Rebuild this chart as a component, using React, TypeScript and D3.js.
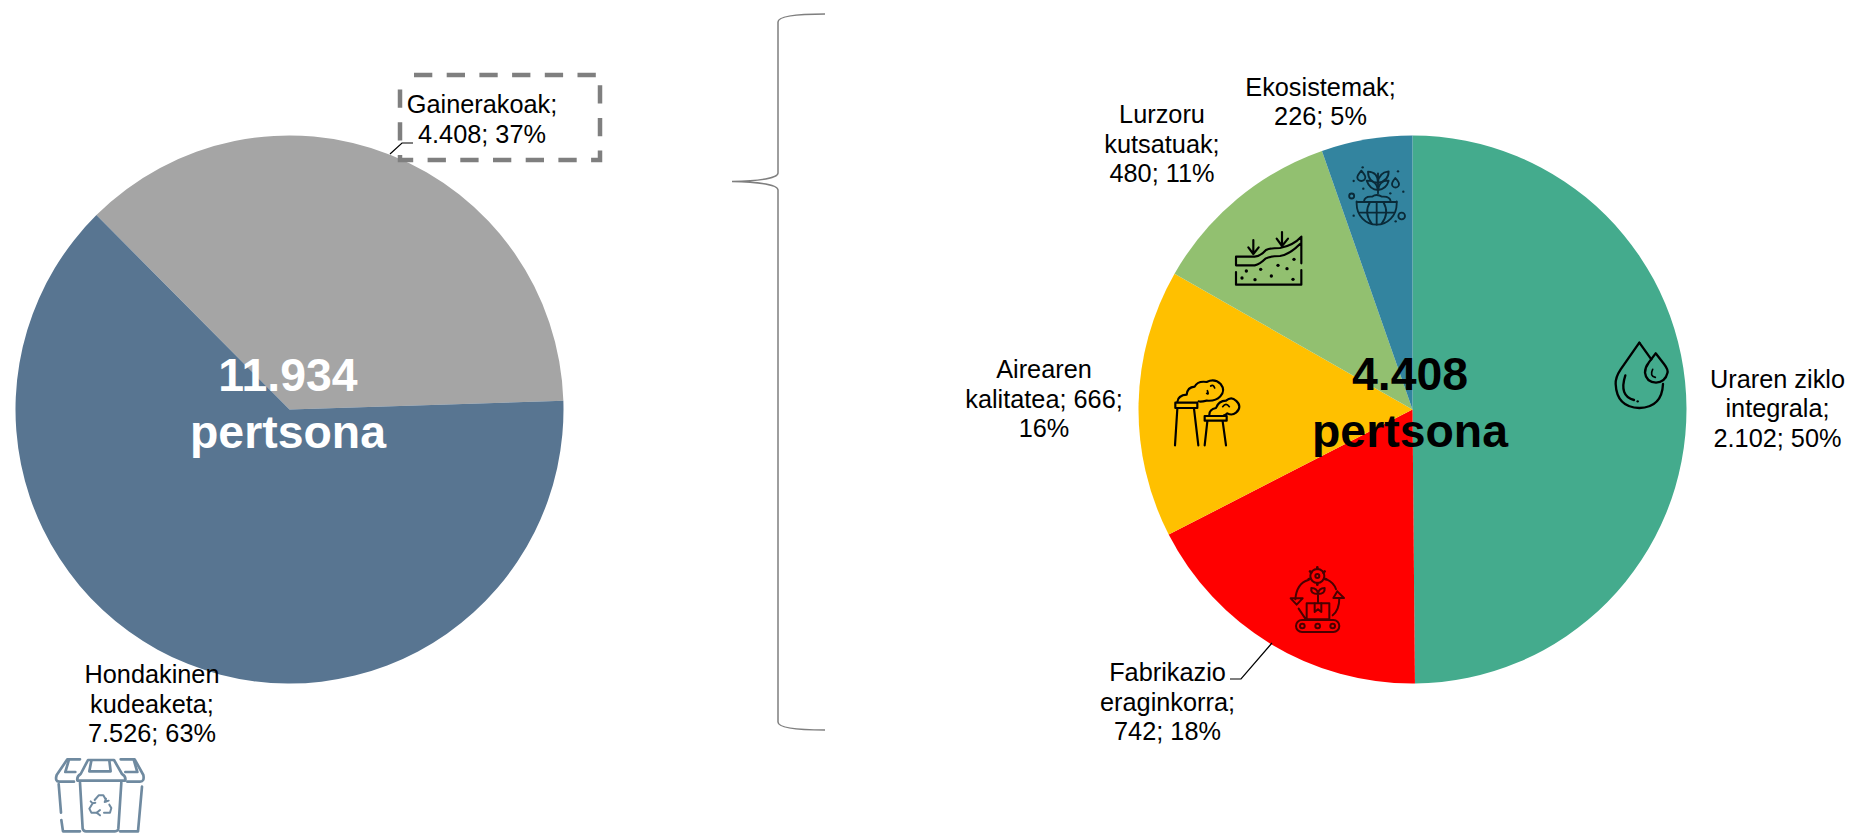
import React from "react";
import * as d3 from "d3";

const leftNames = ["Gainerakoak", "Hondakinen kudeaketa"];
const leftValues = [4408, 7526];
const leftColors = ["#A5A5A5", "#587591"];
const rightNames = ["Uraren ziklo integrala", "Fabrikazio eraginkorra", "Airearen kalitatea", "Lurzoru kutsatuak", "Ekosistemak"];
const rightValues = [2102, 742, 666, 480, 226];
const rightColors = ["#44AB8D", "#FF0000", "#FFC000", "#92C070", "#33849F"];

const leftLabelLines = [
  { lines: ["Gainerakoak;", "4.408; 37%"], x: 482, y: 113 },
  { lines: ["Hondakinen", "kudeaketa;", "7.526; 63%"], x: 152, y: 683 },
];
const rightLabelLines = [
  { lines: ["Uraren ziklo", "integrala;", "2.102; 50%"], x: 1777.5, y: 387.5 },
  { lines: ["Fabrikazio", "eraginkorra;", "742; 18%"], x: 1167.5, y: 681 },
  { lines: ["Airearen", "kalitatea; 666;", "16%"], x: 1044, y: 378 },
  { lines: ["Lurzoru", "kutsatuak;", "480; 11%"], x: 1162, y: 123 },
  { lines: ["Ekosistemak;", "226; 5%"], x: 1320.5, y: 95.5 },
];

const FONT = "'Liberation Sans', Arial, sans-serif";
const R = 274;
const CY = 409.5;

function Pie({ cx, values, colors, names, start }: { cx: number; values: number[]; colors: string[]; names: string[]; start: number }) {
  const pie = d3.pie<number>().sort(null).startAngle(start).endAngle(start + 2 * Math.PI);
  const arc = d3.arc<d3.PieArcDatum<number>>().innerRadius(0).outerRadius(R);
  return (
    <g transform={`translate(${cx},${CY})`}>
      {pie(values).map((d, i) => (
        <path key={names[i]} d={arc(d) as string} fill={colors[i]} />
      ))}
    </g>
  );
}

function Label({ lines, x, y }: { lines: string[]; x: number; y: number }) {
  return (
    <text x={x} y={y} textAnchor="middle" fontFamily={FONT} fontSize={25.3} fill="#000">
      {lines.map((l, i) => (
        <tspan key={l} x={x} y={y + i * 29.6}>{l}</tspan>
      ))}
    </text>
  );
}

function Icon({ ox, oy, color, children, sw = 6 }: { ox: number; oy: number; color: string; children: React.ReactNode; sw?: number }) {
  return (
    <g transform={`translate(${ox},${oy}) scale(${1 / 3})`} fill="none" stroke={color} strokeWidth={sw} strokeLinecap="round" strokeLinejoin="round">
      {children}
    </g>
  );
}

const Dot = ({ x, y, r = 4, c = "#000" }: { x: number; y: number; r?: number; c?: string }) => <circle cx={x} cy={y} r={r} fill={c} stroke="none" />;

export default function App() {
  return (
    <svg width={1850} height={833} style={{ position: "absolute", left: 0, top: 0, display: "block", background: "#fff" }}>
      <Pie cx={289.5} values={leftValues} colors={leftColors} names={leftNames} start={-0.782} />
      <Pie cx={1412.5} values={rightValues} colors={rightColors} names={rightNames} start={0} />

      {/* brace */}
      <path d="M825 14 C790 14 778 17 778 22 V173 C778 178 760 181 732 181.5 C760 182 778 185 778 190 V722 C778 727 790 730 825 730" fill="none" stroke="#7F7F7F" strokeWidth={1.5} />

      {/* callout box and leaders */}
      <rect x={400} y={75} width={200} height={85} fill="none" stroke="#7F7F7F" strokeWidth={4.5} strokeDasharray="18.3 14.4" strokeDashoffset={-14} />
      <path d="M390 154 L402 143 H413" fill="none" stroke="#000" strokeWidth={1.2} />
      <path d="M1272 643 L1241 679 H1230" fill="none" stroke="#000" strokeWidth={1.2} />

      {[...leftLabelLines, ...rightLabelLines].map((l) => (
        <Label key={l.lines[0]} {...l} />
      ))}

      {/* centre totals */}
      <text textAnchor="middle" fontFamily={FONT} fontWeight={700} fontSize={46.4} fill="#fff">
        <tspan x={288} y={391}>11.934</tspan>
        <tspan x={288} y={448}>pertsona</tspan>
      </text>
      <text textAnchor="middle" fontFamily={FONT} fontWeight={700} fontSize={46.4} fill="#000">
        <tspan x={1410} y={390}>4.408</tspan>
        <tspan x={1410} y={447}>pertsona</tspan>
      </text>

      {/* bins */}
      <Icon ox={0} oy={640} color="#6F8AA0" sw={8}>
        <path d="M232 422 Q230 408 242 402 L264 360 H342 L366 402 Q378 408 376 422 Z" />
        <path d="M274 362 L268 394 H332 L328 362" />
        <path d="M240 428 L248 566 Q250 574 258 574 H345 Q354 574 355 566 L364 428" />
        <path d="M240 358 H202 L170 405 Q164 425 178 425 H222" />
        <path d="M206 362 L196 396 H226" />
        <path d="M176 432 L183 518 M184 540 L189 574 H240" />
        <path d="M362 358 H404 L430 405 Q434 425 420 425 H382" />
        <path d="M402 362 L412 396 H376" />
        <path d="M426 440 L414 574 H360" />
        <g strokeWidth={6}>
          <path d="M284 480 L296 466 H310 L320 484 M326 482 L314 486 L318 476" />
          <path d="M312 518 H330 L334 504 L328 494 M300 510 L290 518 L300 526" />
          <path d="M290 518 H274 L268 506 L278 490 M272 484 L278 490 L286 488" />
        </g>
      </Icon>

      {/* water drops */}
      <Icon ox={1590} oy={320} color="#000" sw={7}>
        <path d="M148 68 L92 148 Q76 172 77 192 Q80 262 148 264 Q216 262 219 192" />
        <path d="M148 68 L184 118" />
        <path d="M197 100 L222 132 Q236 150 232 160 Q226 186 198 188 Q168 186 165 158 Q165 142 176 128 Z" />
        <path d="M106 166 Q86 228 132 240" />
        <path d="M188 148 Q178 168 196 172" strokeWidth={5} />
        <Dot x={143} y={244} r={3.5} />
      </Icon>

      {/* factory */}
      <Icon ox={1150} oy={360} color="#000" sw={6.5}>
        <path d="M76 128 H142 V144 H76 Z" />
        <path d="M82 146 L75 256 M132 146 L145 256" />
        <path d="M164 168 H230 V182 H164 Z" />
        <path d="M172 184 L164 256 M218 184 L228 256" />
        <path d="M82 126 Q84 106 110 104 Q112 82 134 80 Q142 62 170 66 Q194 54 212 72 Q228 92 210 110 Q198 124 170 122 Q152 126 146 124" />
        <path d="M170 100 Q178 106 172 92 M182 78 Q190 72 194 84" strokeWidth={5} />
        <path d="M178 164 Q178 148 198 144 Q206 122 228 122 Q244 108 258 122 Q278 140 258 158 Q246 168 232 160 Q226 166 222 166" />
        <path d="M218 140 Q228 126 238 140" strokeWidth={5} />
      </Icon>

      {/* soil */}
      <Icon ox={1200} oy={140} color="#000" sw={6.5}>
        <path d="M108 350 H164 Q182 348 198 330 Q210 324 240 324 Q280 316 304 290 V370 M304 390 V434 H108 V396 M108 352 V376 H164 Q180 372 196 356 Q210 348 240 348 Q268 344 300 312" />
        <path d="M160 300 V342 M145 322 L160 342 L176 322" />
        <path d="M246 276 V318 M230 296 L246 318 L264 296" />
        {[[139, 393], [182, 388], [234, 376], [261, 386], [282, 358], [126, 414], [165, 419], [214, 408], [279, 418]].map(([x, y]) => (
          <Dot key={`${x}-${y}`} x={x} y={y} r={5} />
        ))}
      </Icon>

      {/* globe and sprout */}
      <Icon ox={1200} oy={140} color="#0A2A38" sw={5.5}>
        <path d="M470 184 V192 A60 62 0 0 0 590 192 V184" />
        <path d="M470 186 H590 M478 218 H582" />
        <path d="M492 184 Q494 168 516 170 Q530 160 546 170 Q570 168 572 184" />
        <path d="M530 186 V254 M510 186 Q490 220 516 252 M550 186 Q570 220 544 252" />
        <path d="M534 160 V100" />
        <path d="M534 128 Q505 128 504 95 Q534 96 534 128 M534 128 Q566 124 566 94 Q536 98 534 128 M534 150 Q510 150 500 122 Q530 120 534 150 M534 150 Q560 146 566 122 Q538 120 534 150" />
        <path d="M484 92 Q472 106 472 112 A12 11 0 0 0 496 112 Q496 106 484 92 Z" />
        <path d="M586 114 Q576 126 576 132 A10 10 0 0 0 597 132 Q597 126 586 114 Z" />
        <circle cx={455} cy={168} r={7.5} />
        <circle cx={605} cy={228} r={10} />
        {[[488, 82], [594, 94], [461, 123], [490, 146], [571, 160], [610, 155], [461, 227], [587, 244]].map(([x, y]) => (
          <Dot key={`g${x}-${y}`} x={x} y={y} r={3.5} c="#0A2A38" />
        ))}
      </Icon>

      {/* eco-factory */}
      <Icon ox={1260} oy={550} color="#4A0000" sw={6}>
        <circle cx={172} cy={78} r={21} />
        <circle cx={172} cy={78} r={6} />
        <path d="M172 52 V57 M194 64 L190 68 M198 88 L193 86 M150 64 L154 68 M146 88 L151 86 M172 104 V99" strokeWidth={8} />
        <path d="M145 90 Q110 100 106 148 M200 88 Q222 98 228 118" />
        <path d="M92 145 H128 L110 164 Z" />
        <path d="M232 124 L252 144 H238 Q238 180 218 196 M232 124 L220 144 H238" />
        <path d="M116 176 L136 206 M140 160 H208 V208 H140 Z" />
        <path d="M164 160 V186 L174 178 L184 186 V160" />
        <path d="M174 158 V130 M174 132 Q150 132 154 114 Q172 114 174 132 M174 132 Q196 132 194 114 Q176 114 174 132" />
        <rect x={108} y={210} width={130} height={36} rx={18} />
        <circle cx={127} cy={228} r={7} />
        <circle cx={173} cy={228} r={7} />
        <circle cx={218} cy={228} r={7} />
      </Icon>
    </svg>
  );
}
